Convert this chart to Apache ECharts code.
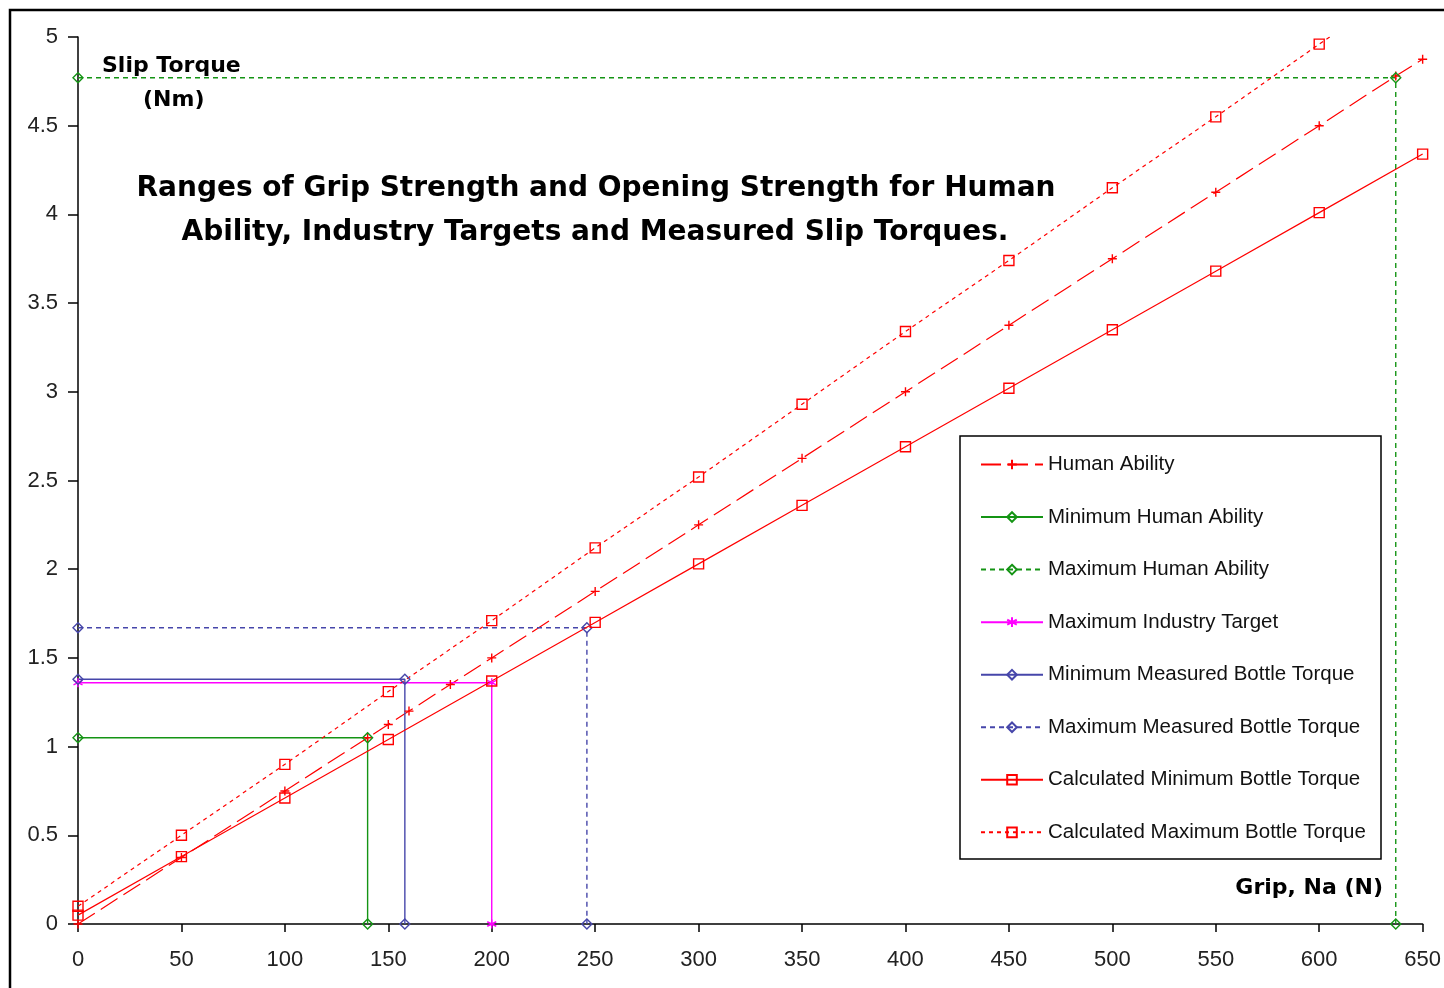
<!DOCTYPE html>
<html>
<head>
<meta charset="utf-8">
<script src="https://cdn.jsdelivr.net/npm/echarts@6/dist/echarts.min.js"></script>
<style>html,body{margin:0;padding:0;background:#fff;}#c{width:1444px;height:988px;}</style>
</head>
<body>
<div id="c"></div>
<script>
// ---- data ----
const humanX = [0, 50, 100, 140, 150, 160, 180, 200, 250, 300, 350, 400, 450, 500, 550, 600, 637, 650];
const humanY = [0, 0.375, 0.75, 1.05, 1.125, 1.2, 1.35, 1.5, 1.875, 2.25, 2.625, 3.0, 3.375, 3.75, 4.125, 4.5, 4.78, 4.875];

const minHumanX = [0, 140, 140];
const minHumanY = [1.05, 1.05, 0];
const maxHumanX = [0, 637, 637];
const maxHumanY = [4.77, 4.77, 0];
const maxTargetX = [0, 200, 200];
const maxTargetY = [1.36, 1.36, 0];
const minMeasX = [0, 158, 158];
const minMeasY = [1.38, 1.38, 0];
const maxMeasX = [0, 246, 246];
const maxMeasY = [1.67, 1.67, 0];

const calcX = [0, 50, 100, 150, 200, 250, 300, 350, 400, 450, 500, 550, 600, 650];
const calcMinY = [0.05, 0.38, 0.71, 1.04, 1.37, 1.70, 2.03, 2.36, 2.69, 3.02, 3.35, 3.68, 4.01, 4.34];
const calcMaxY = [0.1, 0.5, 0.9, 1.31, 1.71, 2.12, 2.52, 2.93, 3.34, 3.74, 4.15, 4.55, 4.96, 5.36];

const seriesNames = ['Human Ability', 'Minimum Human Ability', 'Maximum Human Ability', 'Maximum Industry Target',
  'Minimum Measured Bottle Torque', 'Maximum Measured Bottle Torque', 'Calculated Minimum Bottle Torque', 'Calculated Maximum Bottle Torque'];

const titleLines = ['Ranges of Grip Strength and Opening Strength for Human', 'Ability, Industry Targets and Measured Slip Torques.'];

// ---- helpers ----
const pair = (xs, ys) => xs.map((x, i) => [x, ys[i]]);
const RED = '#ff0000', GREEN = '#149414', MAG = '#ff00ff', BLUE = '#4646aa';
const PLUS = 'path://M5,0L5,10M0,5L10,5';
const STAR = 'path://M5,0L5,10M0.67,2.5L9.33,7.5M0.67,7.5L9.33,2.5';
const SANS = "'Liberation Sans', Arial, sans-serif";
const BOLD = "'DejaVu Sans', Verdana, sans-serif";

function mk(name, data, color, type, width, symbol, size) {
  return {
    name, type: 'line', data, color,
    symbol, symbolSize: size, showSymbol: true,
    lineStyle: { color, width, type },
    itemStyle: { color: 'none', borderColor: color, borderWidth: 1.4 },
    emphasis: { disabled: true },
    animation: false, clip: true, z: 3
  };
}

const series = [
  mk(seriesNames[0], pair(humanX, humanY), RED, [20, 7], 1.2, PLUS, 9),
  mk(seriesNames[1], pair(minHumanX, minHumanY), GREEN, 'solid', 1.4, 'diamond', 10),
  mk(seriesNames[2], pair(maxHumanX, maxHumanY), GREEN, [5, 4], 1.4, 'diamond', 10),
  mk(seriesNames[3], pair(maxTargetX, maxTargetY), MAG, 'solid', 1.4, STAR, 9),
  mk(seriesNames[4], pair(minMeasX, minMeasY), BLUE, 'solid', 1.4, 'diamond', 10),
  mk(seriesNames[5], pair(maxMeasX, maxMeasY), BLUE, [5, 4], 1.4, 'diamond', 10),
  mk(seriesNames[6], pair(calcX, calcMinY), RED, 'solid', 1.2, 'rect', 10),
  mk(seriesNames[7], pair(calcX, calcMaxY), RED, [4, 4], 1.2, 'rect', 10)
];

const chart = echarts.init(document.getElementById('c'), null, { renderer: 'canvas' });
chart.setOption({
  animation: false,
  backgroundColor: '#fff',
  grid: { left: 78, top: 37, right: 21, bottom: 64, containLabel: false },
  xAxis: {
    type: 'value', min: 0, max: 650, interval: 50,
    axisLine: { onZero: false, lineStyle: { color: '#000', width: 1.5 } },
    axisTick: { show: true, length: 8, lineStyle: { color: '#000', width: 1.5 } },
    axisLabel: { margin: 25, fontFamily: SANS, fontSize: 22, color: '#222' },
    splitLine: { show: false }
  },
  yAxis: {
    type: 'value', min: 0, max: 5, interval: 0.5,
    axisLine: { show: true, lineStyle: { color: '#000', width: 1.5 } },
    axisTick: { show: true, length: 10, lineStyle: { color: '#000', width: 1.5 } },
    axisLabel: { margin: 20, fontFamily: SANS, fontSize: 22, color: '#222' },
    splitLine: { show: false }
  },
  legend: {
    data: seriesNames,
    orient: 'vertical', left: 980, top: 454, padding: 0,
    itemWidth: 62, itemHeight: 12, itemGap: 31.55,
    selectedMode: false, z: 10,
    textStyle: { fontFamily: SANS, fontSize: 20.5, lineHeight: 20, color: '#111' }
  },
  graphic: [
    { type: 'rect', z: 1, shape: { x: 10, y: 10, width: 1460, height: 1000 },
      style: { fill: 'none', stroke: '#000', lineWidth: 2.5 } },
    { type: 'rect', z: 5, shape: { x: 960, y: 436, width: 421, height: 423 },
      style: { fill: '#fff', stroke: '#000', lineWidth: 1.5 } },
    { type: 'text', z: 6, x: 596, y: 189, style: { text: titleLines[0], font: "bold 28px " + BOLD, fill: '#000', textAlign: 'center', textVerticalAlign: 'middle' } },
    { type: 'text', z: 6, x: 595, y: 233, style: { text: titleLines[1], font: "bold 28px " + BOLD, fill: '#000', textAlign: 'center', textVerticalAlign: 'middle' } },
    { type: 'text', z: 6, x: 102, y: 66, style: { text: 'Slip Torque', font: "bold 22px " + BOLD, fill: '#000', textAlign: 'left', textVerticalAlign: 'middle' } },
    { type: 'text', z: 6, x: 143, y: 100, style: { text: '(Nm)', font: "bold 22px " + BOLD, fill: '#000', textAlign: 'left', textVerticalAlign: 'middle' } },
    { type: 'text', z: 6, x: 1383, y: 888, style: { text: 'Grip, Na (N)', font: "bold 22px " + BOLD, fill: '#000', textAlign: 'right', textVerticalAlign: 'middle' } }
  ],
  series
});
</script>
</body>
</html>
